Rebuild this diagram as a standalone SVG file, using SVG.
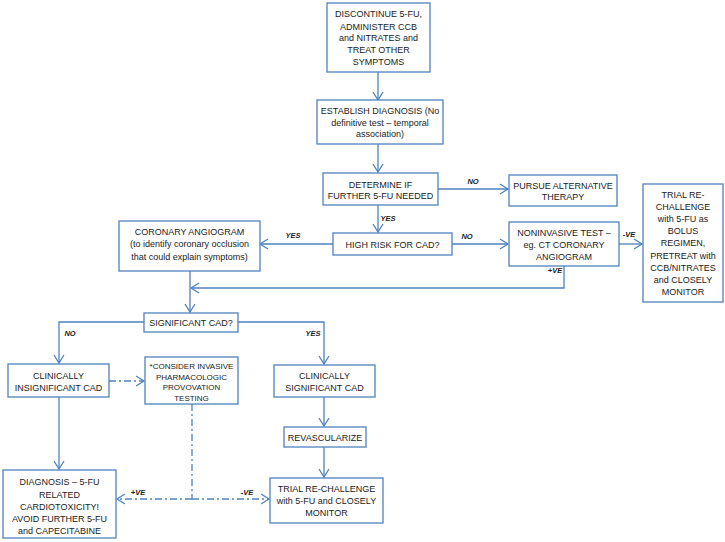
<svg xmlns="http://www.w3.org/2000/svg" width="725" height="542" viewBox="0 0 725 542">
<style>
.box{fill:#fff;stroke:#4f81bd;stroke-width:1.3}
.ln{fill:none;stroke:#4f81bd;stroke-width:1.3}
.dash{stroke-dasharray:7,3,2,3}
text{font-family:"Liberation Sans",Arial,sans-serif;font-size:9px;fill:#222;text-anchor:middle}
.sm{font-size:8px}
.lb{font-size:7.5px;font-weight:bold;font-style:italic}
</style>
<defs>
<marker id="ar" markerWidth="12" markerHeight="12" refX="9" refY="6" orient="auto" markerUnits="userSpaceOnUse">
<path d="M1,1 L9,6 L1,11" fill="none" stroke="#4f81bd" stroke-width="1.3"/>
</marker>
</defs>
<g id="connectors">
<path class="ln" d="M378,72 V100" marker-end="url(#ar)"/>
<path class="ln" d="M378,144 V172" marker-end="url(#ar)"/>
<path class="ln" d="M438,189 H508" marker-end="url(#ar)"/>
<path class="ln" d="M378,205 V232" marker-end="url(#ar)"/>
<path class="ln" d="M452,244 H508" marker-end="url(#ar)"/>
<path class="ln" d="M619,244 H642" marker-end="url(#ar)"/>
<path class="ln" d="M333,244 H260" marker-end="url(#ar)"/>
<path class="ln" d="M564,266 V288 H191" marker-end="url(#ar)"/>
<path class="ln" d="M190,271 V312" marker-end="url(#ar)"/>
<path class="ln" d="M144,322 H59 V363" marker-end="url(#ar)"/>
<path class="ln" d="M238,322 H324 V364" marker-end="url(#ar)"/>
<path class="ln dash" d="M109,381 H144" marker-end="url(#ar)"/>
<path class="ln" d="M324,397 V426" marker-end="url(#ar)"/>
<path class="ln" d="M324,447 V477" marker-end="url(#ar)"/>
<path class="ln" d="M59,397 V469" marker-end="url(#ar)"/>
<path class="ln dash" d="M192,404 V499"/>
<path class="ln dash" d="M192,499 H117" marker-end="url(#ar)"/>
<path class="ln dash" d="M192,499 H269" marker-end="url(#ar)"/>
<text class="lb" x="473" y="184">NO</text>
<text class="lb" x="388" y="221">YES</text>
<text class="lb" x="467" y="239">NO</text>
<text class="lb" x="629" y="237">-VE</text>
<text class="lb" x="293" y="238">YES</text>
<text class="lb" x="555" y="273">+VE</text>
<text class="lb" x="70" y="336">NO</text>
<text class="lb" x="313" y="336">YES</text>
<text class="lb" x="138" y="495">+VE</text>
<text class="lb" x="247" y="495">-VE</text>
</g>
<g id="discontinue">
<rect class="box" x="327" y="3" width="103" height="69"/>
<text x="378.5" y="17">DISCONTINUE 5-FU,</text>
<text x="378.5" y="29.5">ADMINISTER CCB</text>
<text x="378.5" y="41">and NITRATES and</text>
<text x="378.5" y="53">TREAT OTHER</text>
<text x="378.5" y="65">SYMPTOMS</text>
</g>
<g id="establish">
<rect class="box" x="317" y="100" width="126" height="44"/>
<text x="380" y="114">ESTABLISH DIAGNOSIS (No</text>
<text x="380" y="125.5">definitive test – temporal</text>
<text x="380" y="137">association)</text>
</g>
<g id="determine">
<rect class="box" x="323" y="173" width="115" height="32"/>
<text x="380.5" y="188">DETERMINE IF</text>
<text x="380.5" y="199">FURTHER 5-FU NEEDED</text>
</g>
<g id="pursue">
<rect class="box" x="509" y="175" width="108" height="31"/>
<text x="563" y="189">PURSUE ALTERNATIVE</text>
<text x="563" y="200">THERAPY</text>
</g>
<g id="highrisk">
<rect class="box" x="333" y="233" width="119" height="22"/>
<text x="392.5" y="247.5">HIGH RISK FOR CAD?</text>
</g>
<g id="noninvasive">
<rect class="box" x="509" y="222" width="110" height="44"/>
<text x="564" y="236">NONINVASIVE TEST –</text>
<text x="564" y="247.5">eg. CT CORONARY</text>
<text x="564" y="259.5">ANGIOGRAM</text>
</g>
<g id="trialbolus">
<rect class="box" x="643" y="184" width="80" height="118"/>
<text x="683" y="197.5">TRIAL RE-</text>
<text x="683" y="209.5">CHALLENGE</text>
<text x="683" y="222">with 5-FU as</text>
<text x="683" y="234">BOLUS</text>
<text x="683" y="246">REGIMEN,</text>
<text x="683" y="258.5">PRETREAT with</text>
<text x="683" y="270.5">CCB/NITRATES</text>
<text x="683" y="282.5">and CLOSELY</text>
<text x="683" y="294.5">MONITOR</text>
</g>
<g id="coronary">
<rect class="box" x="119" y="221" width="141" height="50"/>
<text x="189.5" y="234.5">CORONARY ANGIOGRAM</text>
<text x="189.5" y="247">(to identify coronary occlusion</text>
<text x="189.5" y="259.5">that could explain symptoms)</text>
</g>
<g id="sigcad">
<rect class="box" x="144" y="313" width="94" height="19"/>
<text x="191" y="326">SIGNIFICANT CAD?</text>
</g>
<g id="insig">
<rect class="box" x="8" y="364" width="101" height="33"/>
<text x="58.5" y="378.5">CLINICALLY</text>
<text x="58.5" y="391">INSIGNIFICANT CAD</text>
</g>
<g id="consider">
<rect class="box" x="145" y="357" width="93" height="47"/>
<text class="sm" x="191.5" y="368.7">*CONSIDER INVASIVE</text>
<text class="sm" x="191.5" y="379.5">PHARMACOLOGIC</text>
<text class="sm" x="191.5" y="390">PROVOVATION</text>
<text class="sm" x="191.5" y="400.5">TESTING</text>
</g>
<g id="clinsig">
<rect class="box" x="274" y="365" width="101" height="32"/>
<text x="324.5" y="378.5">CLINICALLY</text>
<text x="324.5" y="391">SIGNIFICANT CAD</text>
</g>
<g id="revasc">
<rect class="box" x="284" y="427" width="82" height="20"/>
<text x="325" y="440.5">REVASCULARIZE</text>
</g>
<g id="trialmonitor">
<rect class="box" x="270" y="478" width="113" height="45"/>
<text x="326.5" y="492">TRIAL RE-CHALLENGE</text>
<text x="326.5" y="503.5">with 5-FU and CLOSELY</text>
<text x="326.5" y="516">MONITOR</text>
</g>
<g id="diagnosis">
<rect class="box" x="3" y="470" width="113" height="68"/>
<text x="59.5" y="485">DIAGNOSIS – 5-FU</text>
<text x="59.5" y="497.5">RELATED</text>
<text x="59.5" y="510">CARDIOTOXICITY!</text>
<text x="59.5" y="521.5">AVOID FURTHER 5-FU</text>
<text x="59.5" y="533.5">and CAPECITABINE</text>
</g>
</svg>
